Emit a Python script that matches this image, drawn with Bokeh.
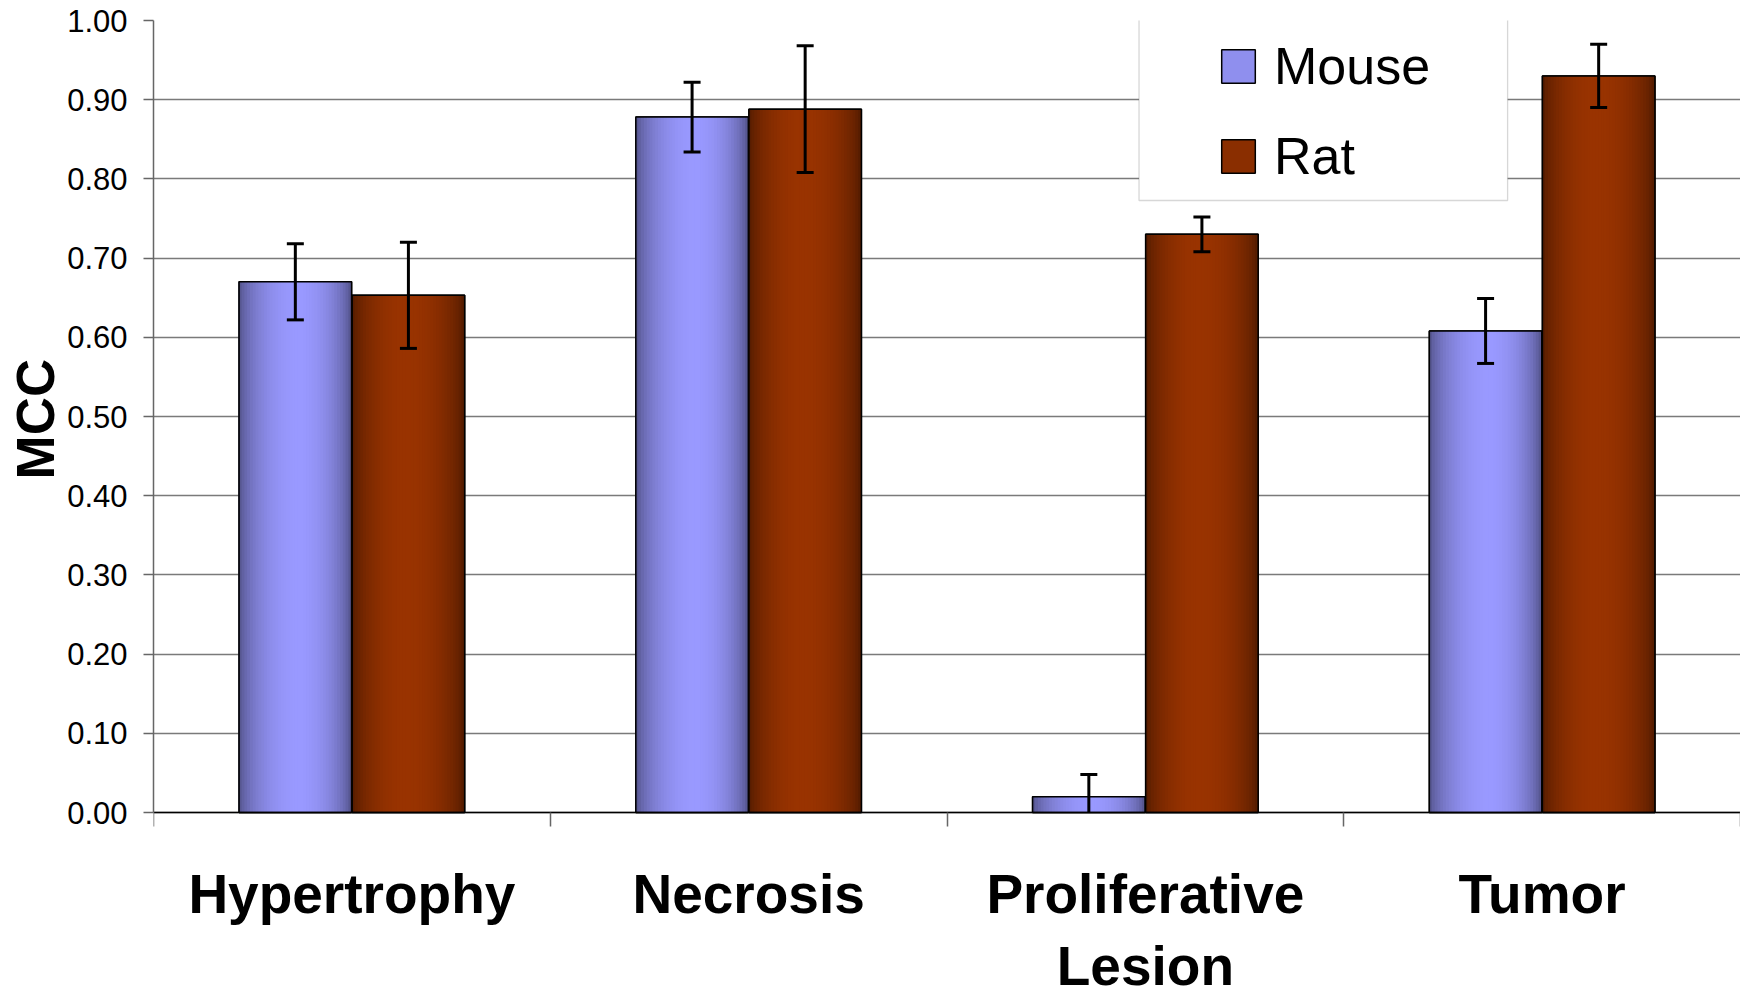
import numpy as np
from bokeh.plotting import figure
from bokeh.models import (ColumnDataSource, Range1d, FixedTicker, Whisker, TeeHead,
                          Legend, LegendItem, BoxAnnotation, NumeralTickFormatter, Title)
from bokeh.embed import file_html
from bokeh.resources import INLINE

# ---------------- data ----------------
categories = ["Hypertrophy", "Necrosis", "Proliferative\nLesion", "Tumor"]
series_names = ["Mouse", "Rat"]
mouse_mcc = [0.670, 0.878, 0.020, 0.608]
rat_mcc = [0.653, 0.888, 0.730, 0.930]
mouse_err = [0.048, 0.044, 0.028, 0.041]
rat_err = [0.067, 0.080, 0.022, 0.040]
y_ticks = [0.0, 0.1, 0.2, 0.3, 0.4, 0.5, 0.6, 0.7, 0.8, 0.9, 1.0]

# ---------------- style / layout ----------------
FONT = "Liberation Sans"
BAR_W = 0.2835
OFFS = [-0.1425, 0.1425]
LIGHT = [(153, 153, 255), (153, 51, 0)]
SWATCH = ["#8f8fee", "#8a2e00"]
PEAK = [0.53, 0.48]
N_STRIPS = 40
Y_BOTTOM = -0.226   # room below zero for the category labels

p = figure(width=1740, height=991, output_backend="svg", toolbar_location=None,
           x_range=Range1d(0, len(categories)), y_range=Range1d(Y_BOTTOM, 1),
           min_border_left=153, min_border_right=0, min_border_top=20,
           min_border_bottom=0)
p.outline_line_color = None
p.background_fill_color = "white"


def hexcol(rgb, s):
    return "#%02x%02x%02x" % tuple(int(round(c * s)) for c in rgb)


def strip_source(values, offset, light, peak):
    xs, tops, cols = [], [], []
    for i, v in enumerate(values):
        c = i + 0.5 + offset
        for k in range(N_STRIPS):
            t = (k + 0.5) / N_STRIPS
            if t < peak:
                f = np.sin(np.pi / 2 * t / peak)
            else:
                f = np.sin(np.pi / 2 * (1 - t) / (1 - peak))
            f = f ** 0.6
            xs.append(c - BAR_W / 2 + t * BAR_W)
            tops.append(v)
            cols.append(hexcol(light, 0.5 + 0.5 * f))
    return ColumnDataSource(dict(x=xs, top=tops, color=cols))


all_vals = [mouse_mcc, rat_mcc]
all_errs = [mouse_err, rat_err]
legend_items = []
for s in range(2):
    osrc = ColumnDataSource(dict(x=[i + 0.5 + OFFS[s] for i in range(len(categories))],
                                 top=all_vals[s]))
    base_r = p.vbar(x="x", top="top", bottom=0, width=BAR_W, source=osrc,
                    fill_color=SWATCH[s], line_color="black", line_width=1.5)
    legend_items.append(LegendItem(label=series_names[s], renderers=[base_r]))
    src = strip_source(all_vals[s], OFFS[s], LIGHT[s], PEAK[s])
    p.vbar(x="x", top="top", bottom=0, width=BAR_W / N_STRIPS * 1.25, source=src,
           fill_color="color", line_color=None)
    p.vbar(x="x", top="top", bottom=0, width=BAR_W, source=osrc,
           fill_color=None, line_color="black", line_width=1.5)

    xs = np.array([i + 0.5 + OFFS[s] for i in range(len(categories))])
    v = np.array(all_vals[s])
    e = np.array(all_errs[s])
    up = v + e
    lo = v - e
    ok = lo >= 0
    for mask, with_low in [(ok, True), (~ok, False)]:
        if mask.sum() == 0:
            continue
        wsrc = ColumnDataSource(dict(x=xs[mask], upper=up[mask],
                                     lower=np.clip(lo[mask], 0, None)))
        w = Whisker(source=wsrc, base="x", upper="upper", lower="lower",
                    line_color="black", line_width=3, level="overlay",
                    upper_head=TeeHead(size=17, line_width=3, line_color="black"),
                    lower_head=TeeHead(size=17, line_width=3, line_color="black") if with_low else None)
        p.add_layout(w)

# ---------------- axes ----------------
p.yaxis.bounds = (0, 1)
p.yaxis.ticker = FixedTicker(ticks=y_ticks, minor_ticks=[])
p.yaxis.formatter = NumeralTickFormatter(format="0.00")
p.yaxis.major_tick_out = 10
p.yaxis.major_tick_in = 0
p.yaxis.major_tick_line_color = "#666666"
p.yaxis.major_tick_line_width = 1.5
p.yaxis.axis_line_color = "#666666"
p.yaxis.axis_line_width = 1.5
p.yaxis.major_label_text_font = FONT
p.yaxis.major_label_text_font_size = "31px"
p.yaxis.major_label_text_color = "black"
p.yaxis.major_label_standoff = 16

# y-axis title, placed alongside the 0..1 part of the frame
p.add_layout(Title(text="MCC", align="left", offset=512, standoff=0,
                   text_font=FONT, text_font_style="bold", text_font_size="53px",
                   text_color="black"), "left")

centers = [i + 0.5 for i in range(len(categories))]
p.xaxis.fixed_location = 0
p.xaxis.ticker = FixedTicker(ticks=centers, minor_ticks=list(range(len(categories) + 1)))
p.xaxis.major_label_overrides = {c: lab for c, lab in zip(centers, categories)}
p.xaxis.major_tick_line_color = None
p.xaxis.major_tick_out = 0
p.xaxis.major_tick_in = 0
p.xaxis.minor_tick_out = 14
p.xaxis.minor_tick_in = 0
p.xaxis.minor_tick_line_color = "#666666"
p.xaxis.minor_tick_line_width = 1.5
p.xaxis.axis_line_color = "black"
p.xaxis.axis_line_width = 1.5
p.xaxis.major_label_text_font = FONT
p.xaxis.major_label_text_font_style = "bold"
p.xaxis.major_label_text_font_size = "55px"
p.xaxis.major_label_text_color = "black"
p.xaxis.major_label_text_line_height = 1.172
p.xaxis.major_label_standoff = 36

p.xgrid.visible = False
p.ygrid.grid_line_color = "#7a7a7a"
p.ygrid.grid_line_width = 1.3

# ---------------- legend ----------------
box = BoxAnnotation(left=2.484, right=3.413, top=1.0057, bottom=0.7727,
                    fill_color="white", fill_alpha=1.0,
                    line_color="#7a7a7a", line_width=1.3)
p.add_layout(box)

legend = Legend(items=legend_items, location=(1064, 805), padding=0, margin=0,
                border_line_color=None, background_fill_alpha=0,
                glyph_width=42, glyph_height=42, label_standoff=15, spacing=30,
                label_text_font=FONT, label_text_font_size="52px",
                label_text_color="black")
p.add_layout(legend)

open("out.html", "w").write(file_html(p, INLINE))
